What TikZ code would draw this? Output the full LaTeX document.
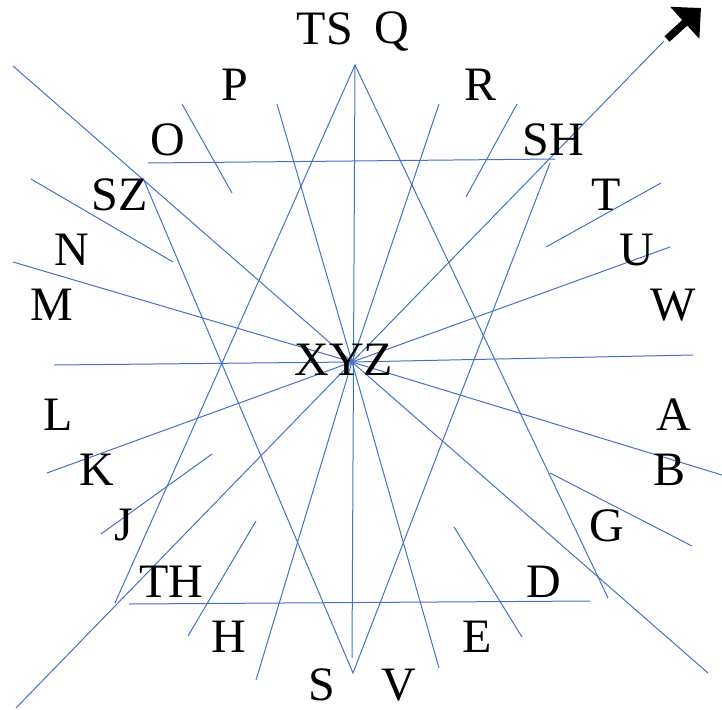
\documentclass[tikz,border=0pt]{standalone}
\usepackage{fontspec}
\setmainfont{Liberation Serif}
\usetikzlibrary{arrows.meta}
\definecolor{lineblue}{HTML}{4472C4}
\tikzset{
  ray/.style={draw=lineblue, line width=1pt},
  lbl/.style={anchor=base, inner sep=0pt, font=\fontsize{48}{48}\selectfont},
  bigarrow/.style={draw=black, line width=7.5pt, -{Triangle[length=22pt,width=42pt]}}
}
\begin{document}
\begin{tikzpicture}[x=1pt,y=-1pt]
\useasboundingbox (0,0) rectangle (722,709);
% centre
\coordinate (c) at (352,362);
% radial line ends
\coordinate (r1a) at (13,66);   \coordinate (r1b) at (708,673);
\coordinate (r2a) at (16,708);  \coordinate (r2b) at (664,41);
\coordinate (r3a) at (13,262);  \coordinate (r3b) at (722,475);
\coordinate (r4a) at (54,365);  \coordinate (r4b) at (693,355);
\coordinate (r5a) at (47,473);  \coordinate (r5b) at (670,247);
\coordinate (r6a) at (256,680); \coordinate (r6b) at (439,104);
\coordinate (r7a) at (277,104); \coordinate (r7b) at (439,668);
\coordinate (top) at (355,65);  \coordinate (vb) at (352,658);
% triangles
\coordinate (bot) at (353,673);
\coordinate (tl) at (115,603);  \coordinate (tr) at (608,598);
\coordinate (bl) at (143,178);  \coordinate (br) at (550,163);
% horizontals
\coordinate (h1a) at (148,163); \coordinate (h1b) at (555,159);
\coordinate (h2a) at (129,604); \coordinate (h2b) at (590,601);
% short segments
\coordinate (s1a) at (182,104); \coordinate (s1b) at (232,193);
\coordinate (s2a) at (517,104); \coordinate (s2b) at (466,197);
\coordinate (s3a) at (31,179);  \coordinate (s3b) at (173,262);
\coordinate (s4a) at (661,183); \coordinate (s4b) at (546,247);
\coordinate (s5a) at (101,534); \coordinate (s5b) at (212,454);
\coordinate (s6a) at (550,473); \coordinate (s6b) at (692,546);
\coordinate (s7a) at (188,636); \coordinate (s7b) at (256,521);
\coordinate (s8a) at (454,527); \coordinate (s8b) at (522,637);
% arrow ends
\coordinate (abase) at (667,39);
\coordinate (atip) at (701,8);

% radial lines
\draw[ray] (r1a) -- (c) -- (r1b);
\draw[ray] (r2a) -- (c) -- (r2b);
\draw[ray] (r3a) -- (c) -- (r3b);
\draw[ray] (r4a) -- (c) -- (r4b);
\draw[ray] (r5a) -- (c) -- (r5b);
\draw[ray] (r6a) -- (c) -- (r6b);
\draw[ray] (r7a) -- (c) -- (r7b);
\draw[ray] (top) -- (vb);
% triangles
\draw[ray] (tl) -- (top) -- (tr);
\draw[ray] (bl) -- (bot) -- (br);
% horizontals
\draw[ray] (h1a) -- (h1b);
\draw[ray] (h2a) -- (h2b);
% short segments
\draw[ray] (s1a) -- (s1b);
\draw[ray] (s2a) -- (s2b);
\draw[ray] (s3a) -- (s3b);
\draw[ray] (s4a) -- (s4b);
\draw[ray] (s5a) -- (s5b);
\draw[ray] (s6a) -- (s6b);
\draw[ray] (s7a) -- (s7b);
\draw[ray] (s8a) -- (s8b);
% black arrow
\draw[bigarrow] (abase) -- (atip);

% labels
\node[lbl] (nTS) at (325,45) {TS};
\node[lbl] (nQ) at (392,44) {Q};
\node[lbl] (nP) at (235,100) {P};
\node[lbl] (nR) at (481,100) {R};
\node[lbl] (nO) at (168,155) {O};
\node[lbl] (nSH) at (553,155) {SH};
\node[lbl] (nSZ) at (120,210) {SZ};
\node[lbl] (nT) at (606,210) {T};
\node[lbl] (nN) at (72,265) {N};
\node[lbl] (nU) at (637,265) {U};
\node[lbl] (nM) at (52,320) {M};
\node[lbl] (nW) at (673,320) {W};
\node[lbl] (nXYZ) at (344,375) {XYZ};
\node[lbl] (nL) at (58,430) {L};
\node[lbl] (nA) at (674,430) {A};
\node[lbl] (nK) at (97,485) {K};
\node[lbl] (nB) at (669,485) {B};
\node[lbl] (nJ) at (124,540) {J};
\node[lbl] (nG) at (607,541) {G};
\node[lbl] (nTH) at (171,597) {TH};
\node[lbl] (nD) at (544,597) {D};
\node[lbl] (nH) at (229,652) {H};
\node[lbl] (nE) at (477,652) {E};
\node[lbl] (nS) at (322,700) {S};
\node[lbl] (nV) at (399,700) {V};
\end{tikzpicture}
\end{document}
